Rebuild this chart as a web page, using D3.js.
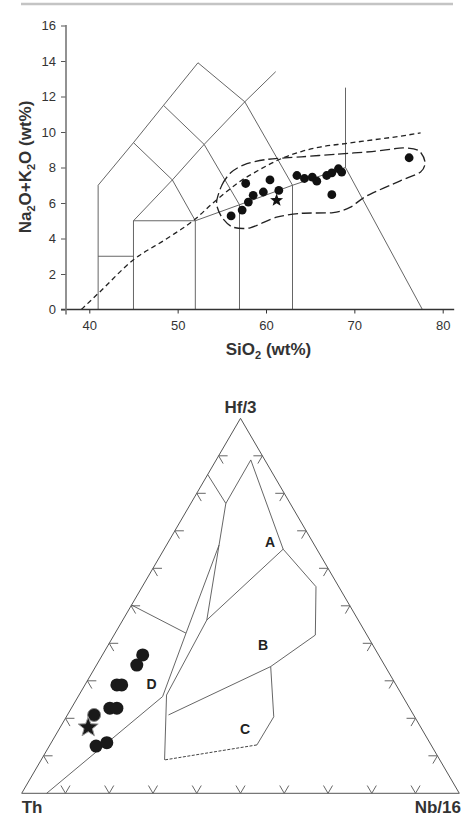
<!DOCTYPE html>
<html><head><meta charset="utf-8">
<script src="https://cdn.jsdelivr.net/npm/d3@7"></script>
<style>body{margin:0;background:#fff} svg{display:block}</style>
</head><body>
<svg id="c" width="469" height="818"></svg>
<script>
// ---------------- TAS diagram data ----------------
const tasSiO2 = [56.05, 57.3, 57.7, 58.0, 58.55, 59.7, 60.45, 61.45, 63.5, 64.35, 65.24, 65.75, 66.87, 67.45, 67.45, 68.2, 68.57, 76.2];
const tasAlk  = [5.27, 5.6, 7.1, 6.05, 6.43, 6.62, 7.3, 6.71, 7.55, 7.38, 7.46, 7.23, 7.55, 7.7, 6.47, 7.93, 7.74, 8.55];
const tasStar = [61.2, 6.15];
const xTicks = [40, 50, 60, 70, 80];
const yTicks = [0, 2, 4, 6, 8, 10, 12, 14, 16];
const tasFieldLines = [
  [[41,0],[41,7],[45,9.4],[48.4,11.5],[52.3,13.9],[57.6,11.7],[63,7],[69,8],[77.7,0]],
  [[41,3],[45,3]],
  [[45,0],[45,5],[52,5],[57,5.9],[63,7]],
  [[52,0],[52,5]],
  [[57,0],[57,5.9]],
  [[63,0],[63,7]],
  [[45,9.4],[49.4,7.3],[52,5]],
  [[48.4,11.5],[53,9.3],[57,5.9]],
  [[45,5],[49.4,7.3],[53,9.3],[57.6,11.7],[61.1,13.4]],
  [[69,8],[69,12.5]]
];
const alkalineLine = [[39.1,0],[41,0.9],[45,2.8],[48.8,4.0],[52,5.1],[54,6.0],[55.2,6.5],[57,7.2],[59,7.8],[61.5,8.45],[64,8.9],[66.1,9.15],[69,9.35],[72,9.55],[75,9.75],[77.5,9.95]];
const envelope = [[54.4,6.0],[55.0,7.0],[56.0,7.7],[57.5,8.15],[60,8.45],[64,8.6],[68,8.75],[72,8.9],[75.5,9.1],[77.3,8.95],[78.0,8.3],[77.5,7.75],[75.2,7.25],[71.4,6.4],[69.5,5.75],[67.6,5.46],[64,5.42],[61.2,5.2],[58.2,4.6],[56.2,4.65],[55.0,5.2]];

// ---------------- Ternary diagram data (Hf/3 %, Nb/16 %; Th = rest) ----------------
const ternHf = [36.9, 34.2, 28.9, 28.9, 22.7, 22.7, 20.9, 12.6, 13.5];
const ternNb = [9.2, 9.2, 7.3, 8.4, 8.8, 10.4, 6.1, 10.7, 12.7];
const ternStar = [17.6, 6.4];
const ternTicks = [10, 20, 30, 40, 50, 60, 70, 80, 90];
const ternFieldLines = [
  [[85,0],[77.3,8.0]],
  [[88.9,7.9],[77.3,8.0],[46.2,19.2]],
  [[88.9,7.9],[65.1,27.2],[46.2,19.2]],
  [[65.1,27.2],[55.1,39.7],[42.2,46.0],[33.8,40.0],[20.9,23.1]],
  [[46.2,19.2],[26.2,20.0],[8.9,28.2]],
  [[33.8,40.0],[20.4,47.4],[12.9,47.3]],
  [[66.2,12.0],[42.7,16.2],[25.8,19.3],[0,5.7]],
  [[50.2,0],[42.7,16.2]]
];
const ternDashedLines = [[[12.9,47.3],[8.9,28.2]]];
const ternFieldNames = ['A', 'B', 'C', 'D'];
const ternFieldHf = [66.9, 39.5, 17.1, 29.1];
const ternFieldNb = [23.3, 35.4, 42.5, 15.1];
const ternVertexNames = ['Hf/3', 'Th', 'Nb/16'];

const FONT = "'Liberation Sans', Arial, Helvetica, sans-serif";
const svg = d3.select('#c');

// top rule
svg.append('line').attr('x1', 21).attr('x2', 453).attr('y1', 4).attr('y2', 4)
  .attr('stroke', '#c4c4c4').attr('stroke-width', 2.5);

// ---------------- TAS ----------------
const x = d3.scaleLinear().domain([40, 80]).range([89.3, 442.7]);
const y = d3.scaleLinear().domain([0, 16]).range([309.5, 25.5]);
const line = d3.line().x(d => x(d[0])).y(d => y(d[1]));

const gT = svg.append('g');
gT.selectAll('path.field').data(tasFieldLines).join('path')
  .attr('d', line).attr('fill', 'none').attr('stroke', '#555').attr('stroke-width', 0.9);

gT.append('path').datum(alkalineLine)
  .attr('d', line.curve(d3.curveMonotoneX))
  .attr('fill', 'none').attr('stroke', '#222').attr('stroke-width', 1.3)
  .attr('stroke-dasharray', '5,3.5');

gT.append('path').datum(envelope)
  .attr('d', d3.line().x(d => x(d[0])).y(d => y(d[1])).curve(d3.curveCardinalClosed.tension(0.2)))
  .attr('fill', 'none').attr('stroke', '#222').attr('stroke-width', 1.3)
  .attr('stroke-dasharray', '10,4');

// axes
const xAxis = d3.axisBottom(x).tickValues(xTicks).tickSizeInner(4).tickSizeOuter(0).tickPadding(7);
const gx = svg.append('g').attr('transform', `translate(0,${y(0)})`).call(xAxis);
gx.select('.domain').remove();
gx.selectAll('.tick line').attr('stroke', '#333');
gx.selectAll('.tick text').attr('font-family', FONT).attr('font-size', 13).attr('fill', '#333');
svg.append('line').attr('x1', x(36.8)).attr('x2', x(81.3)).attr('y1', y(0)).attr('y2', y(0))
  .attr('stroke', '#333').attr('stroke-width', 1.3);

const yAxis = d3.axisLeft(y).tickValues(yTicks).tickSizeInner(5).tickSizeOuter(0).tickPadding(5);
const gy = svg.append('g').attr('transform', `translate(66,0)`).call(yAxis);
gy.select('.domain').remove();
gy.selectAll('.tick line').attr('stroke', '#555');
gy.selectAll('.tick text').attr('font-family', FONT).attr('font-size', 13).attr('fill', '#333');
svg.append('line').attr('x1', 66).attr('x2', 66).attr('y1', y(16) - 0.5).attr('y2', y(0) + 5)
  .attr('stroke', '#777').attr('stroke-width', 1.6);

// dots
gT.selectAll('circle.tas').data(tasSiO2).join('circle')
  .attr('cx', d => x(d)).attr('cy', (d, i) => y(tasAlk[i])).attr('r', 4.4).attr('fill', '#111');

function starPath(R) {
  const pts = [];
  for (let k = 0; k < 10; k++) {
    const r = k % 2 === 0 ? R : R * 0.42;
    const a = -Math.PI / 2 + k * Math.PI / 5;
    pts.push([r * Math.cos(a), r * Math.sin(a)]);
  }
  return 'M' + pts.map(p => p[0].toFixed(2) + ',' + p[1].toFixed(2)).join('L') + 'Z';
}
gT.append('path').attr('d', starPath(6.8))
  .attr('transform', `translate(${x(tasStar[0])},${y(tasStar[1])})`).attr('fill', '#111');

// axis titles
const xt = svg.append('text').attr('x', 268.5).attr('y', 354.5).attr('text-anchor', 'middle')
  .attr('font-family', FONT).attr('font-weight', 'bold').attr('font-size', 17).attr('fill', '#333');
xt.append('tspan').text('SiO');
xt.append('tspan').text('2').attr('font-size', 11).attr('dy', 4);
xt.append('tspan').text(' (wt%)').attr('dy', -4);

const yt = svg.append('text').attr('transform', 'translate(31,167) rotate(-90)').attr('text-anchor', 'middle')
  .attr('font-family', FONT).attr('font-weight', 'bold').attr('font-size', 17).attr('fill', '#333');
yt.append('tspan').text('Na');
yt.append('tspan').text('2').attr('font-size', 11).attr('dy', 4);
yt.append('tspan').text('O+K').attr('dy', -4);
yt.append('tspan').text('2').attr('font-size', 11).attr('dy', 4);
yt.append('tspan').text('O (wt%)').attr('dy', -4);

// ---------------- Ternary ----------------
const tx = d3.scaleLinear().domain([0, 100]).range([21.7, 459.3]);
const ty = d3.scaleLinear().domain([0, 100]).range([793.3, 418.3]);
const P = (hf, nb) => [tx(nb + hf / 2), ty(hf)];
const tline = d3.line().x(d => P(d[0], d[1])[0]).y(d => P(d[0], d[1])[1]);

const gR = svg.append('g');
// outline
gR.append('path').datum([[100, 0], [0, 0], [0, 100], [100, 0]]).attr('d', tline)
  .attr('fill', 'none').attr('stroke', '#555').attr('stroke-width', 1);

// ticks
const TL = 9;
const vT = P(0, 0), vH = P(100, 0), vN = P(0, 100);
function unit(a, b) { const dx = b[0] - a[0], dy = b[1] - a[1], l = Math.hypot(dx, dy); return [dx / l, dy / l]; }
const uTH = unit(vT, vH), uNH = unit(vN, vH), uHN = unit(vH, vN), uHT = unit(vH, vT), uTN = unit(vT, vN), uNT = unit(vN, vT);
const tickSegs = [];
ternTicks.forEach(t => {
  // bottom edge (Hf = 0)
  let p = P(0, t);
  tickSegs.push([p, uTH], [p, uNH]);
  // left edge (Nb = 0)
  p = P(t, 0);
  tickSegs.push([p, uTN], [p, uHN]);
  // right edge (Th = 0)
  p = P(t, 100 - t);
  tickSegs.push([p, uNT], [p, uHT]);
});
gR.selectAll('line.tk').data(tickSegs).join('line')
  .attr('x1', d => d[0][0]).attr('y1', d => d[0][1])
  .attr('x2', d => d[0][0] + d[1][0] * TL).attr('y2', d => d[0][1] + d[1][1] * TL)
  .attr('stroke', '#666').attr('stroke-width', 1);

// field lines
gR.selectAll('path.fl').data(ternFieldLines).join('path')
  .attr('d', tline).attr('fill', 'none').attr('stroke', '#555').attr('stroke-width', 0.9);
gR.selectAll('path.dl').data(ternDashedLines).join('path')
  .attr('d', tline).attr('fill', 'none').attr('stroke', '#444').attr('stroke-width', 1)
  .attr('stroke-dasharray', '3,1.5');

// field labels
gR.selectAll('text.fn').data(ternFieldNames).join('text')
  .attr('x', (d, i) => P(ternFieldHf[i], ternFieldNb[i])[0])
  .attr('y', (d, i) => P(ternFieldHf[i], ternFieldNb[i])[1] + 5)
  .attr('text-anchor', 'middle').attr('font-family', FONT).attr('font-weight', 'bold')
  .attr('font-size', 14).attr('fill', '#222').text(d => d);

// dots
const dotIdx = d3.range(ternHf.length);
gR.selectAll('circle.td').data(dotIdx).join('circle')
  .attr('cx', i => P(ternHf[i], ternNb[i])[0]).attr('cy', i => P(ternHf[i], ternNb[i])[1])
  .attr('r', 6.5).attr('fill', '#1a1a1a')
  .attr('stroke', i => i === 6 ? '#888' : 'none').attr('stroke-width', 1);
const sp = P(ternStar[0], ternStar[1]);
gR.append('path').attr('d', starPath(10.5)).attr('transform', `translate(${sp[0]},${sp[1]})`)
  .attr('fill', '#1a1a1a').attr('stroke', '#999').attr('stroke-width', 1);

// vertex labels
const vlab = [[vH[0], 413.3, 'middle'], [vT[0], 813.3, 'start'], [461, 813.3, 'end']];
gR.selectAll('text.vl').data(ternVertexNames).join('text')
  .attr('x', (d, i) => vlab[i][0]).attr('y', (d, i) => vlab[i][1]).attr('text-anchor', (d, i) => vlab[i][2])
  .attr('font-family', FONT).attr('font-weight', 'bold').attr('font-size', 17).attr('fill', '#333')
  .text(d => d);
</script>
</body></html>
